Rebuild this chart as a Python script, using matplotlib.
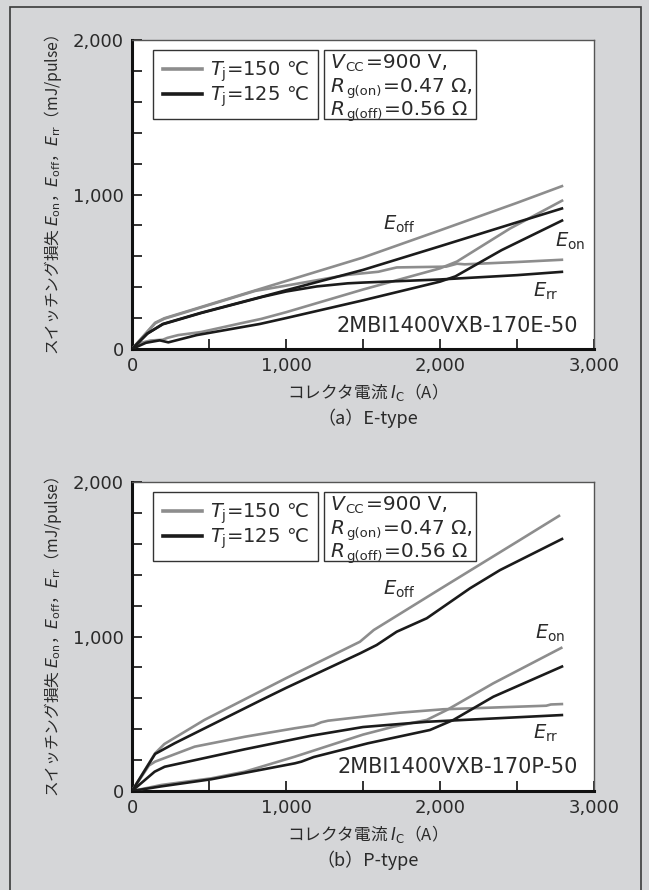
import matplotlib
matplotlib.use('Agg')
import matplotlib.pyplot as plt
from matplotlib.patches import Rectangle
from matplotlib.lines import Line2D
from matplotlib.ticker import FixedLocator, FuncFormatter

plt.rcParams['font.family'] = ['DejaVu Sans', 'Noto Sans CJK JP']
plt.rcParams['mathtext.fontset'] = 'dejavusans'

JP = ['Noto Sans CJK JP', 'DejaVu Sans']
GRAY = '#8d8d8d'
BLACK = '#1b1b1b'
BG = '#d5d6d8'
TXT = '#2a2a2a'

# ---------------- axis ticks ----------------
x_major = [0, 1000, 2000, 3000]
x_minor = [500, 1500, 2500]
y_major = [0, 1000, 2000]
y_minor = [200, 400, 600, 800, 1200, 1400, 1600, 1800]

# ---------------- (a) E-type ----------------
e_eoff150_x = [0, 150, 210, 600, 1000, 1500, 2000, 2500, 2800]
e_eoff150_y = [0, 170, 199, 318, 440, 592, 768, 946, 1057]
e_eoff125_x = [0, 100, 200, 450, 850, 1000, 1500, 2000, 2500, 2800]
e_eoff125_y = [0, 100, 162, 235, 340, 380, 512, 665, 820, 912]
e_err150_x = [0, 150, 210, 600, 800, 1000, 1200, 1400, 1600, 1650, 1720, 2040, 2110, 2160, 2500, 2800]
e_err150_y = [0, 166, 196, 315, 376, 410, 445, 480, 500, 512, 528, 533, 552, 548, 563, 578]
e_err125_x = [0, 100, 200, 450, 850, 1000, 1200, 1400, 1500, 2000, 2500, 2800]
e_err125_y = [0, 100, 160, 233, 338, 372, 405, 425, 430, 450, 478, 500]
e_eon150_x = [0, 60, 120, 200, 230, 300, 450, 700, 840, 1000, 1500, 2000, 2110, 2455, 2800]
e_eon150_y = [0, 40, 55, 60, 72, 90, 110, 165, 195, 238, 385, 522, 566, 780, 964]
e_eon125_x = [0, 90, 180, 236, 420, 830, 1000, 1500, 2000, 2100, 2400, 2800]
e_eon125_y = [0, 40, 56, 43, 90, 162, 200, 315, 436, 470, 640, 835]

# ---------------- (b) P-type ----------------
p_eoff150_x = [0, 150, 210, 470, 1000, 1480, 1570, 2000, 2500, 2780]
p_eoff150_y = [0, 244, 304, 460, 730, 966, 1042, 1307, 1613, 1785]
p_eoff125_x = [0, 150, 277, 472, 840, 1000, 1481, 1589, 1719, 1914, 2195, 2390, 2800]
p_eoff125_y = [0, 240, 309, 406, 589, 667, 891, 945, 1031, 1118, 1312, 1430, 1635]
p_err150_x = [0, 110, 150, 407, 732, 1057, 1180, 1230, 1273, 1533, 1740, 2022, 2690, 2720, 2800]
p_err150_y = [0, 165, 190, 287, 351, 406, 425, 445, 455, 485, 507, 529, 552, 560, 563]
p_err125_x = [0, 147, 212, 732, 1165, 1500, 1914, 2800]
p_err125_y = [0, 125, 157, 270, 358, 414, 448, 492]
p_eon150_x = [0, 100, 190, 515, 732, 1057, 1500, 1697, 1914, 2044, 2346, 2795]
p_eon150_y = [0, 20, 39, 82, 125, 222, 365, 416, 460, 524, 697, 930]
p_eon125_x = [0, 190, 515, 1057, 1100, 1180, 1533, 1935, 2087, 2346, 2800]
p_eon125_y = [0, 30, 76, 179, 190, 220, 309, 395, 460, 610, 809]

legend_labels = [r'$T_{\mathrm{j}}$=150 ℃', r'$T_{\mathrm{j}}$=125 ℃']
# condition text: (text, kind) with kind in it / sub / rm
cond_rows = [
    [('V', 'it'), ('CC', 'sub'), ('=900 V,', 'rm')],
    [('R', 'it'), ('g(on)', 'sub'), ('=0.47 Ω,', 'rm')],
    [('R', 'it'), ('g(off)', 'sub'), ('=0.56 Ω', 'rm')],
]

W, H = 649, 890
fig = plt.figure(figsize=(6.49, 8.90), dpi=100, facecolor=BG)

# outer frame
fig.add_artist(Rectangle((9.5 / W, -0.05), (641 - 9.5) / W, (1 - 7.5 / H) + 0.05,
                         transform=fig.transFigure, fill=False, edgecolor='#3a3a3a', lw=1.2))


def px_axes(l, t, r, b):
    return fig.add_axes([l / W, 1 - b / H, (r - l) / W, (b - t) / H])


fmt = FuncFormatter(lambda v, p: f'{int(round(v)):,}')


def style(ax):
    ax.set_facecolor('white')
    ax.set_xlim(0, 3000)
    ax.set_ylim(0, 2000)
    ax.xaxis.set_major_locator(FixedLocator(x_major))
    ax.xaxis.set_minor_locator(FixedLocator(x_minor))
    ax.yaxis.set_major_locator(FixedLocator(y_major))
    ax.yaxis.set_minor_locator(FixedLocator(y_minor))
    ax.xaxis.set_major_formatter(fmt)
    ax.yaxis.set_major_formatter(fmt)
    ax.tick_params(which='both', direction='in', length=7.5, width=1.3, color='#222',
                   top=False, right=False, labelcolor=TXT, labelsize=13)
    ax.tick_params(axis='x', pad=6)
    ax.tick_params(axis='y', pad=6)
    for s in ['left', 'bottom']:
        ax.spines[s].set_linewidth(2.2)
        ax.spines[s].set_color('#111')
    for s in ['top', 'right']:
        ax.spines[s].set_linewidth(1.0)
        ax.spines[s].set_color('#555')


def rich_line(ax, x, y, parts, size=14.5, subsize=9.5, gap=1.2, drop=1.5):
    prev = None
    prev_kind = None
    for s, kind in parts:
        fs = subsize if kind == 'sub' else size
        st = 'italic' if kind == 'it' else 'normal'
        if prev is None:
            prev = ax.text(x, y, s, transform=ax.transAxes, fontsize=fs, fontstyle=st,
                           color=TXT, va='baseline', ha='left', zorder=6)
        else:
            dy = 0.0
            if kind == 'sub':
                dy = -drop
            if prev_kind == 'sub':
                dy = drop
            prev = ax.annotate(s, xy=(1, 0), xycoords=prev, xytext=(gap, dy),
                               textcoords='offset points', fontsize=fs, fontstyle=st,
                               color=TXT, va='bottom', ha='left', zorder=6)
        prev_kind = kind


def panel(ax, curves, model, model_y, lab_pos, caption):
    style(ax)
    for (x, y, c) in curves:
        ax.plot(x, y, color=c, lw=1.9, solid_joinstyle='round', solid_capstyle='butt', zorder=3)
    # legend
    handles = [Line2D([], [], color=GRAY, lw=2.6), Line2D([], [], color=BLACK, lw=2.6)]
    leg = ax.legend(handles, legend_labels, loc='upper left', bbox_to_anchor=(0.046, 0.969),
                    borderaxespad=0, fancybox=False, edgecolor='#333', framealpha=1,
                    prop={'size': 14}, handlelength=2.0, handletextpad=0.4,
                    borderpad=0.5, labelspacing=0.05)
    leg.get_frame().set_linewidth(1.0)
    for t in leg.get_texts():
        t.set_color(TXT)
    # conditions box
    ax.add_patch(Rectangle((0.416, 0.743), 0.328, 0.226, transform=ax.transAxes,
                           facecolor='white', edgecolor='#333', lw=1.0, zorder=5))
    for parts, yy in zip(cond_rows, [0.909, 0.832, 0.757]):
        rich_line(ax, 0.429, yy, parts)
    # curve labels
    for (lx, ly, s) in lab_pos:
        ax.text(lx, ly, s, fontsize=14, color=TXT, va='baseline', ha='left')
    ax.text(2896, model_y, model, fontsize=15, color=TXT, va='baseline', ha='right')
    ax.text(0.5, -0.139, r'コレクタ電流 $I_{\mathrm{C}}$（A）', transform=ax.transAxes,
            family=JP, fontsize=12, color=TXT, ha='center', va='center')
    ax.text(0.51, -0.223, caption, transform=ax.transAxes, family=JP, fontsize=13,
            color=TXT, ha='center', va='center')
    ax.text(-0.171, 0.5, r'スイッチング損失 $E_{\mathrm{on}}$，$E_{\mathrm{off}}$，$E_{\mathrm{rr}}$（mJ/pulse）',
            transform=ax.transAxes, family=JP, fontsize=11.3, color=TXT, rotation=90,
            ha='center', va='center')


ax1 = px_axes(132, 40, 594, 349)
panel(ax1,
      [(e_eoff150_x, e_eoff150_y, GRAY), (e_err150_x, e_err150_y, GRAY), (e_eon150_x, e_eon150_y, GRAY),
       (e_eoff125_x, e_eoff125_y, BLACK), (e_err125_x, e_err125_y, BLACK), (e_eon125_x, e_eon125_y, BLACK)],
      '2MBI1400VXB-170E-50', 112,
      [(1630, 770, r'$E_{\mathrm{off}}$'), (2747, 662, r'$E_{\mathrm{on}}$'), (2606, 338, r'$E_{\mathrm{rr}}$')],
      '（a）E-type')

ax2 = px_axes(132, 482, 594, 791)
panel(ax2,
      [(p_eoff150_x, p_eoff150_y, GRAY), (p_err150_x, p_err150_y, GRAY), (p_eon150_x, p_eon150_y, GRAY),
       (p_eoff125_x, p_eoff125_y, BLACK), (p_err125_x, p_err125_y, BLACK), (p_eon125_x, p_eon125_y, BLACK)],
      '2MBI1400VXB-170P-50', 118,
      [(1632, 1268, r'$E_{\mathrm{off}}$'), (2617, 988, r'$E_{\mathrm{on}}$'), (2606, 341, r'$E_{\mathrm{rr}}$')],
      '（b）P-type')

fig.savefig('out.png', dpi=100, facecolor=BG)
